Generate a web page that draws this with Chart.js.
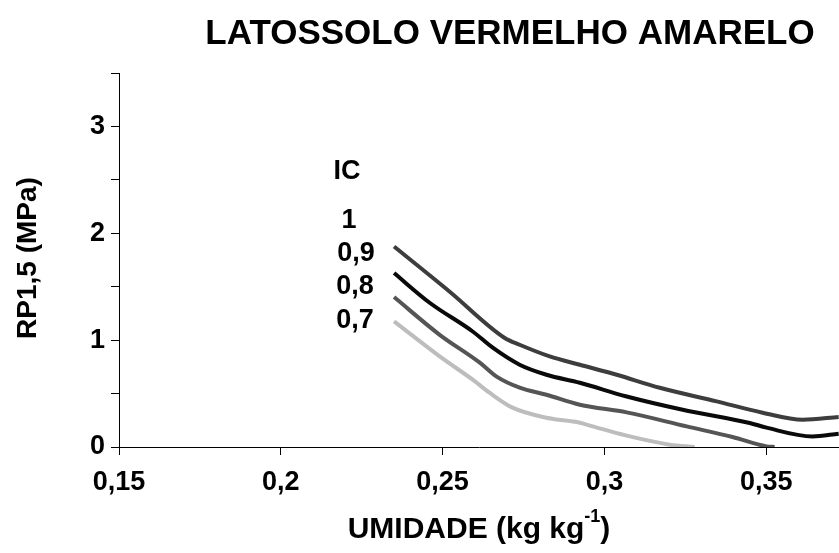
<!DOCTYPE html>
<html lang="pt">

<head>
    <meta charset="UTF-8">
    <title>Latossolo Vermelho Amarelo</title>
    <script src="https://cdn.jsdelivr.net/npm/chart.js@4.4.1/dist/chart.umd.min.js"></script>
    <style>
        body { margin: 0; background: #fff; }
    </style>
</head>

<body>
    <canvas id="chart" width="839" height="553"></canvas>
</body>
<script>
    // umidade (kg kg-1) e RP1,5 (MPa)
    var ic09x = [0.235, 0.2522, 0.2692, 0.2738, 0.2831, 0.2924, 0.3038, 0.3171, 0.3347, 0.3489, 0.3613, 0.3724];
    var ic09y = [1.876, 1.453, 1.020, 0.957, 0.848, 0.770, 0.676, 0.554, 0.427, 0.321, 0.255, 0.281];

    var ic08x = [0.235, 0.2460, 0.2593, 0.2655, 0.2738, 0.2821, 0.2924, 0.3069, 0.3242, 0.3449, 0.3501, 0.3643, 0.3724];
    var ic08y = [1.628, 1.350, 1.081, 0.929, 0.770, 0.676, 0.601, 0.473, 0.349, 0.225, 0.181, 0.099, 0.124];

    var ic07x = [0.235, 0.2491, 0.2615, 0.2667, 0.2738, 0.2821, 0.2924, 0.3069, 0.3254, 0.3396, 0.3501, 0.3526];
    var ic07y = [1.403, 1.050, 0.789, 0.658, 0.555, 0.489, 0.396, 0.324, 0.193, 0.094, 0.006, 0];

    var ic06x = [0.235, 0.2491, 0.2593, 0.2645, 0.2716, 0.2821, 0.2924, 0.2964, 0.3069, 0.3202, 0.3279];
    var ic06y = [1.175, 0.848, 0.630, 0.508, 0.368, 0.274, 0.227, 0.193, 0.106, 0.022, 0];

    var xTicks = [0.15, 0.2, 0.25, 0.3, 0.35];
    var yTicks = [0, 0.5, 1, 1.5, 2, 2.5, 3, 3.5];
    var icLabels = ['1', '0,9', '0,8', '0,7'];

    var font = '"Liberation Sans", Arial, sans-serif';

    function pts(xs, ys) {
        return xs.map(function (v, i) { return { x: v, y: ys[i] }; });
    }

    function serie(xs, ys, clr) {
        return {
            data: pts(xs, ys),
            borderColor: clr,
            borderWidth: 4,
            pointRadius: 0,
            fill: false,
            showLine: true,
            cubicInterpolationMode: 'monotone'
        };
    }

    // titulo, nomes dos eixos e rotulos IC
    var textos = {
        id: 'textos',
        afterDraw: function (chart) {
            var ctx = chart.ctx;
            ctx.save();
            ctx.fillStyle = '#000';

            ctx.font = 'bold 35px ' + font;
            ctx.textAlign = 'center';
            ctx.textBaseline = 'alphabetic';
            ctx.fillText('LATOSSOLO VERMELHO AMARELO', 510, 44);

            // eixo x com expoente
            var a = 'UMIDADE (kg kg', sup = '-1', b = ')';
            ctx.font = 'bold 30px ' + font;
            var wa = ctx.measureText(a).width, wb = ctx.measureText(b).width;
            ctx.font = 'bold 18px ' + font;
            var ws = ctx.measureText(sup).width;
            var x0 = 479 - (wa + ws + wb) / 2;
            ctx.textAlign = 'left';
            ctx.font = 'bold 30px ' + font;
            ctx.fillText(a, x0, 538);
            ctx.font = 'bold 18px ' + font;
            ctx.fillText(sup, x0 + wa, 522);
            ctx.font = 'bold 30px ' + font;
            ctx.fillText(b, x0 + wa + ws, 538);

            // eixo y
            ctx.save();
            ctx.translate(28, 258);
            ctx.rotate(-Math.PI / 2);
            ctx.textAlign = 'center';
            ctx.textBaseline = 'middle';
            ctx.font = 'bold 28px ' + font;
            ctx.fillText('RP1,5 (MPa)', 0, 0);
            ctx.restore();

            ctx.textAlign = 'center';
            ctx.textBaseline = 'middle';
            ctx.font = 'bold 27px ' + font;
            ctx.fillText('IC', 347, 172);
            var ly = [221, 254, 287, 321];
            var lx = [349, 356, 355, 355];
            icLabels.forEach(function (t, i) { ctx.fillText(t, lx[i], ly[i]); });
            ctx.restore();
        }
    };

    var context = document.getElementById('chart');
    var config = {
        type: 'scatter',
        data: {
            datasets: [
                serie(ic09x, ic09y, '#3d3d3d'),
                serie(ic08x, ic08y, '#0a0a0a'),
                serie(ic07x, ic07y, '#555555'),
                serie(ic06x, ic06y, '#bdbdbd')
            ]
        },
        options: {
            responsive: false,
            animation: false,
            layout: { padding: { top: 73, right: 0, bottom: 0, left: 0 } },
            plugins: { legend: { display: false }, tooltip: { enabled: false } },
            scales: {
                x: {
                    type: 'linear',
                    min: 0.15,
                    max: 0.3725,
                    afterBuildTicks: function (s) { s.ticks = xTicks.map(function (v) { return { value: v }; }); },
                    afterFit: function (s) { s.height = 106; },
                    grid: { drawOnChartArea: false, drawTicks: true, tickLength: 8, tickColor: '#000', tickWidth: 1 },
                    border: { color: '#000', width: 1 },
                    ticks: {
                        color: '#000',
                        padding: 11,
                        maxRotation: 0,
                        font: { family: font, size: 27, weight: 'bold' },
                        callback: function (v) { return String(v).replace('.', ','); }
                    }
                },
                y: {
                    type: 'linear',
                    min: 0,
                    max: 3.5,
                    afterBuildTicks: function (s) { s.ticks = yTicks.map(function (v) { return { value: v }; }); },
                    afterFit: function (s) { s.width = 119; },
                    grid: { drawOnChartArea: false, drawTicks: true, tickLength: 8, tickColor: '#000', tickWidth: 1 },
                    border: { color: '#000', width: 1 },
                    ticks: {
                        color: '#000',
                        padding: 6,
                        font: { family: font, size: 27, weight: 'bold' },
                        callback: function (v) { return v % 1 === 0 ? String(v) : ''; }
                    }
                }
            }
        },
        plugins: [textos]
    };
    var chart = new Chart(context, config);
</script>

</html>
